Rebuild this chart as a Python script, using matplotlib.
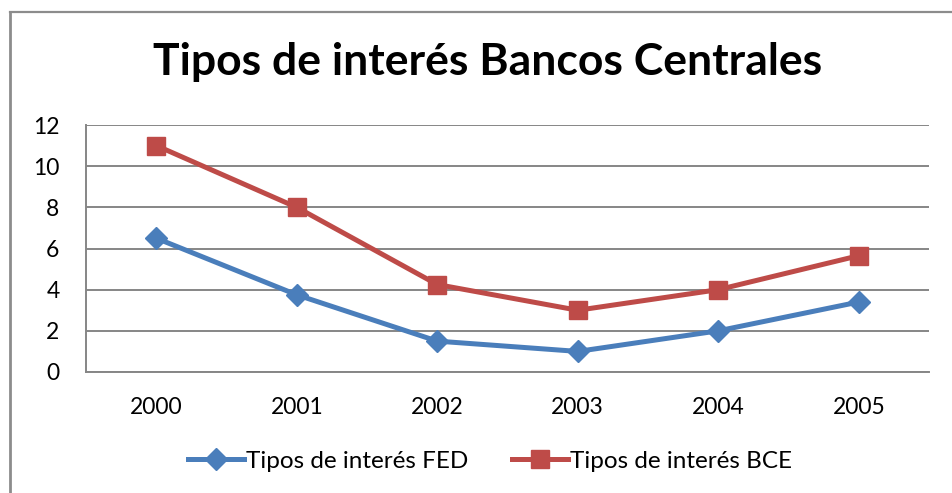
import matplotlib
matplotlib.use("Agg")
import matplotlib.pyplot as plt
from matplotlib.lines import Line2D

years = ["2000", "2001", "2002", "2003", "2004", "2005"]
fed = [6.5, 3.75, 1.5, 1.0, 2.0, 3.4]
bce = [11.0, 8.0, 4.25, 3.0, 4.0, 5.65]
yticks = [0, 2, 4, 6, 8, 10, 12]

plt.rcParams['font.family'] = ['Lato', 'DejaVu Sans']

W, H = 952, 493
fig = plt.figure(figsize=(W/100, H/100), dpi=100)
ax = fig.add_axes([86/W, 1-372/H, (929-86)/W, (372-125)/H])

x = list(range(len(years)))
blue = '#4a7ebb'
red = '#be4b48'
ax.plot(x, fed, color=blue, lw=3.6, marker='D', ms=11, label='Tipos de interés FED', zorder=3)
ax.plot(x, bce, color=red, lw=3.6, marker='s', ms=13, label='Tipos de interés BCE', zorder=3)

ax.set_xlim(-0.5, len(years)-0.5)
ax.set_ylim(0, 12)
ax.set_yticks(yticks)
ax.set_xticks(x)
ax.set_xticklabels(years)
ax.tick_params(axis='both', length=0, labelsize=16.5, colors='black')
ax.tick_params(axis='y', pad=19)
ax.tick_params(axis='x', pad=18)
ax.yaxis.grid(True, color='#868686', lw=1.4)
ax.set_axisbelow(True)
for s in ['top', 'right']:
    ax.spines[s].set_visible(False)
for s in ['left', 'bottom']:
    ax.spines[s].set_color('#868686')
    ax.spines[s].set_linewidth(1.4)

fig.text(488/W, 1-62/H, "Tipos de interés Bancos Centrales", ha='center', va='center',
         fontsize=32, fontweight='bold')

leg = fig.legend(loc='center', bbox_to_anchor=(490/W, 1-461/H), ncol=2, frameon=False,
                 fontsize=17.5, handlelength=2.3, columnspacing=1.8, handletextpad=0.1)

# outer chart border (top and left visible)
fig.add_artist(Line2D([10/W, 1.0], [1-12/H, 1-12/H], color='#8c8c8c', lw=1.6, transform=fig.transFigure))
fig.add_artist(Line2D([10/W, 10/W], [0, 1-12/H], color='#8c8c8c', lw=2.0, transform=fig.transFigure))

fig.savefig("out.png", dpi=100)
